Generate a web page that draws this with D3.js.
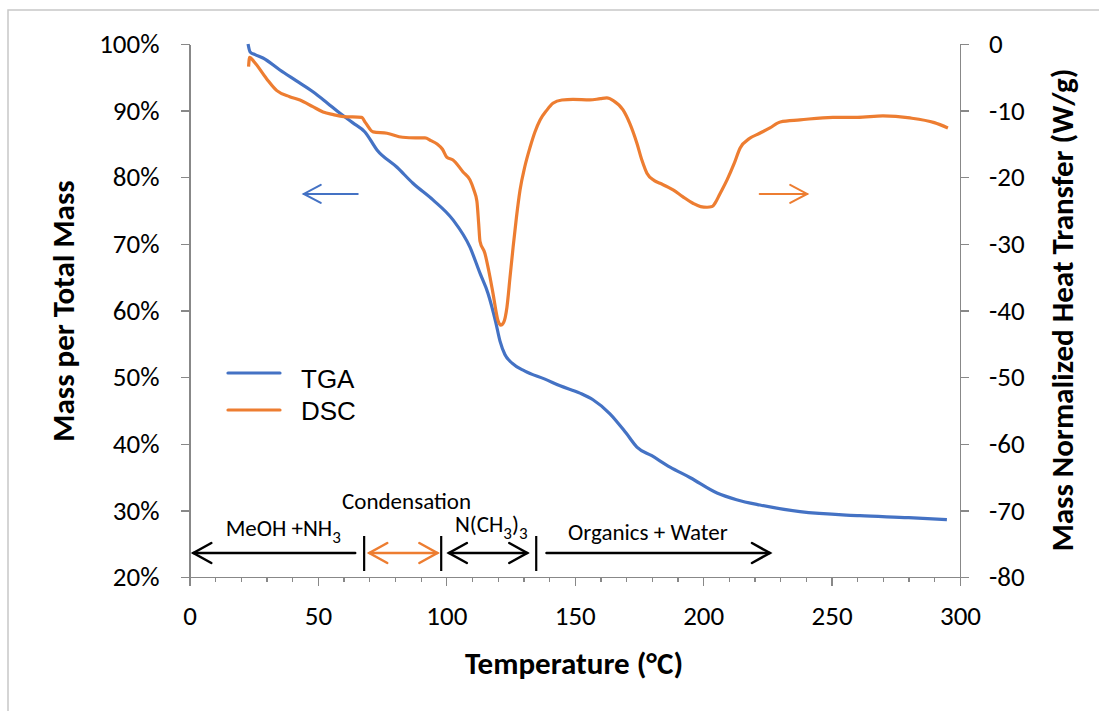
<!DOCTYPE html>
<html>
<head>
<meta charset="utf-8">
<script src="https://cdn.jsdelivr.net/npm/d3@7"></script>
<style>
  html, body { margin: 0; padding: 0; background: #fff; }
  svg { display: block; }
  .axis path, .axis line { stroke: #888; stroke-width: 1.3; shape-rendering: crispEdges; }
  .axis text { font-family: Carlito, Lato, sans-serif; font-size: 27px; fill: #000; }
</style>
</head>
<body>
<svg id="chart" width="1099" height="711"></svg>
<script>
// TGA: temperature (°C) and remaining mass (%)
const tgaTemp = [22.8, 23.6, 25.5, 28.6, 35.2, 41.5, 48.2, 53.5, 58.6, 63.5, 68.3, 73, 80.8, 87, 94.8, 102.6, 109.2, 113.1, 116.2, 119.2, 120.9, 122.8, 125.6, 130.6, 138.4, 144.3, 152, 157.1, 163.7, 170, 174.2, 180, 187.1, 195, 205.4, 213, 222.1, 237.7, 261, 280, 294.9];
const tgaMass = [100, 98.8, 98.4, 97.9, 96.1, 94.5, 92.8, 91.2, 89.6, 88.2, 86.8, 84.1, 81.5, 79.1, 76.6, 73.6, 69.5, 65.6, 62.6, 58.3, 55.4, 53.4, 52.1, 50.9, 49.7, 48.7, 47.6, 46.6, 44.5, 41.6, 39.5, 38.2, 36.5, 34.9, 32.6, 31.6, 30.8, 29.8, 29.2, 28.9, 28.6];

// DSC: temperature (°C) and mass-normalized heat flow (W/g)
const dscTemp = [23.0, 23.4, 25, 30, 34, 39, 43, 48, 52, 56, 60, 67, 68.5, 71.5, 76.9, 83, 88, 91.7, 94, 96.4, 98.5, 100.2, 102.6, 106.5, 109.2, 110.8, 111.9, 112.6, 113.1, 115, 116.5, 118.2, 120.1, 121.2, 122.3, 123.6, 124.8, 126, 127.3, 128.7, 130.5, 132.6, 134.5, 136.5, 139, 141.5, 145, 149.3, 155.9, 160, 162.5, 165, 168.8, 171.5, 174.2, 176.2, 178.1, 181, 183.2, 188.3, 192, 196, 199, 201.5, 203.5, 204.6, 206.5, 209.3, 212, 214.4, 218, 222, 226, 230, 237.7, 250.5, 260, 270, 280.5, 290, 295.3];
const dscHeat = [-3.4, -2.0, -2.6, -5.2, -7.0, -7.9, -8.4, -9.4, -10.2, -10.6, -10.9, -11.0, -11.8, -13.2, -13.4, -14.0, -14.1, -14.1, -14.5, -15.0, -15.8, -17.0, -17.4, -19.2, -20.4, -22.0, -23.6, -27.0, -29.6, -31.4, -34.0, -37.5, -41.5, -42.2, -41.8, -39.5, -35.0, -30.5, -26.0, -21.9, -18.5, -15.5, -13.2, -11.4, -10.0, -8.9, -8.4, -8.3, -8.4, -8.2, -8.1, -8.5, -9.9, -12.0, -14.9, -17.5, -19.4, -20.5, -20.9, -21.9, -22.9, -23.9, -24.4, -24.5, -24.4, -23.9, -22.5, -20.4, -18.0, -15.6, -14.2, -13.4, -12.6, -11.7, -11.4, -11.0, -11.0, -10.8, -11.1, -11.8, -12.6];

// Axis ticks
const xTicks = [0, 50, 100, 150, 200, 250, 300];
const xMinorTicks = d3.range(0, 301, 10);
const massTicks = [20, 30, 40, 50, 60, 70, 80, 90, 100];
const heatTicks = [0, -10, -20, -30, -40, -50, -60, -70, -80];

// Decomposition stages along the temperature axis
const stageBounds = [68, 98, 135];
const stageArrows = [
  { from: 1.5, to: 64.5, color: "#000", heads: "start" },
  { from: 70, to: 96.5, color: "#ED7D31", heads: "both" },
  { from: 101, to: 131.5, color: "#000", heads: "both" },
  { from: 139, to: 226, color: "#000", heads: "end" }
];

const blue = "#4472C4", orange = "#ED7D31";
const font = "Carlito, Lato, sans-serif";

const svg = d3.select("#chart");
const W = 1099, H = 711;

// Outer chart frame
svg.append("rect").attr("x", 8).attr("y", 10).attr("width", W + 10).attr("height", H + 10)
  .attr("fill", "#fff").attr("stroke", "#c8c8c8").attr("stroke-width", 1.5);

const plotL = 189.5, plotR = 960, plotT = 44, plotB = 577;
const x = d3.scaleLinear().domain([0, 300]).range([plotL, plotR]);
const yMass = d3.scaleLinear().domain([20, 100]).range([plotB, plotT]);
const yHeat = d3.scaleLinear().domain([-80, 0]).range([plotB, plotT]);

// Axes
svg.append("g").attr("class", "axis").attr("transform", `translate(0,${plotB})`)
  .call(d3.axisBottom(x).tickValues(xTicks).tickSize(9).tickSizeOuter(0).tickPadding(20));
svg.append("g").attr("class", "axis").attr("transform", `translate(0,${plotB})`)
  .call(d3.axisBottom(x).tickValues(xMinorTicks).tickSize(5).tickSizeOuter(0).tickFormat(""));
svg.append("g").attr("class", "axis").attr("transform", `translate(${plotL},0)`)
  .call(d3.axisLeft(yMass).tickValues(massTicks).tickSize(9).tickSizeOuter(0).tickPadding(21)
    .tickFormat(d => d + "%"));
svg.append("g").attr("class", "axis").attr("transform", `translate(${plotR},0)`)
  .call(d3.axisRight(yHeat).tickValues(heatTicks).tickSize(9).tickSizeOuter(0).tickPadding(20)
    .tickFormat(d => String(d)));

// Axis titles
svg.append("text").attr("x", 574).attr("y", 674).attr("text-anchor", "middle")
  .attr("font-family", font).attr("font-weight", "bold").attr("font-size", 31)
  .text("Temperature (°C)");
svg.append("text").attr("transform", "translate(74,311) rotate(-90)").attr("text-anchor", "middle")
  .attr("font-family", font).attr("font-weight", "bold").attr("font-size", 31)
  .text("Mass per Total Mass");
svg.append("text").attr("transform", "translate(1073,310) rotate(-90)").attr("text-anchor", "middle")
  .attr("font-family", font).attr("font-weight", "bold").attr("font-size", 31)
  .text("Mass Normalized Heat Transfer (W/g)");

// Curves
const tgaData = tgaTemp.map((t, i) => [t, tgaMass[i]]);
const dscData = dscTemp.map((t, i) => [t, dscHeat[i]]);
svg.append("path").datum(tgaData).attr("fill", "none").attr("stroke", blue).attr("stroke-width", 3.2)
  .attr("stroke-linejoin", "round")
  .attr("d", d3.line().x(d => x(d[0])).y(d => yMass(d[1])).curve(d3.curveMonotoneX));
svg.append("path").datum(dscData).attr("fill", "none").attr("stroke", orange).attr("stroke-width", 3.2)
  .attr("stroke-linejoin", "round")
  .attr("d", d3.line().x(d => x(d[0])).y(d => yHeat(d[1])).curve(d3.curveMonotoneX));

// Arrow helper: open chevron heads
function arrow(x1, x2, y, color, heads, w, hl, hw) {
  const g = svg.append("g").attr("stroke", color).attr("stroke-width", w).attr("fill", "none")
    .attr("stroke-linecap", "round");
  g.append("line").attr("x1", x1).attr("x2", x2).attr("y1", y).attr("y2", y);
  if (heads === "start" || heads === "both")
    g.append("polyline").attr("points", `${x1 + hl},${y - hw} ${x1},${y} ${x1 + hl},${y + hw}`);
  if (heads === "end" || heads === "both")
    g.append("polyline").attr("points", `${x2 - hl},${y - hw} ${x2},${y} ${x2 - hl},${y + hw}`);
}

// Axis direction arrows
arrow(x(44.5), x(65.5), yMass(77.5), blue, "start", 2, 17, 9);
arrow(x(222), x(240.5), yHeat(-22.5), orange, "end", 2, 17, 9);

// Stage arrows and dividers
const arrowY = 553;
stageArrows.forEach(a => arrow(x(a.from), x(a.to), arrowY, a.color, a.heads, 2.5, 18, 10));
stageBounds.forEach(t => {
  svg.append("line").attr("x1", x(t)).attr("x2", x(t)).attr("y1", 536).attr("y2", 571)
    .attr("stroke", "#000").attr("stroke-width", 2.2);
});

// Stage labels
const lab = (xx, yy) => svg.append("text").attr("x", xx).attr("y", yy).attr("text-anchor", "middle")
  .attr("font-family", font).attr("font-size", 23).attr("fill", "#000");
const t1 = lab(x(36.5), 536); t1.append("tspan").text("MeOH +NH");
t1.append("tspan").attr("dy", 7).attr("font-size", 17).text("3");
lab(x(84.5), 509).text("Condensation");
const t3 = lab(x(117.5), 532);
t3.append("tspan").text("N(CH");
t3.append("tspan").attr("dy", 7).attr("font-size", 17).text("3");
t3.append("tspan").attr("dy", -7).text(")");
t3.append("tspan").attr("dy", 7).attr("font-size", 17).text("3");
lab(x(178.5), 540).text("Organics + Water");

// Legend
const legend = [{ name: "TGA", color: blue }, { name: "DSC", color: orange }];
legend.forEach((d, i) => {
  const ly = 373 + i * 37;
  svg.append("line").attr("x1", 228).attr("x2", 280).attr("y1", ly).attr("y2", ly)
    .attr("stroke", d.color).attr("stroke-width", 3.2).attr("stroke-linecap", "round");
  svg.append("text").attr("x", 301).attr("y", ly + 15 - i * 5).attr("font-family", "'Liberation Sans', Arial, sans-serif")
    .attr("font-size", 26).attr("fill", "#000").text(d.name);
});
</script>
</body>
</html>
